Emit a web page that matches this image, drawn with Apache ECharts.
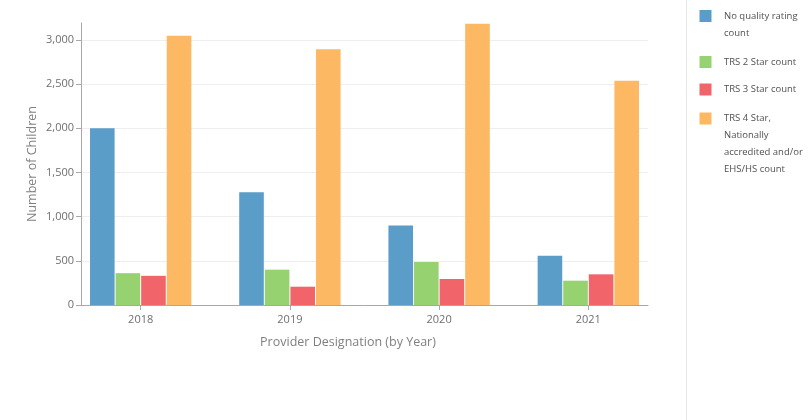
<!DOCTYPE html>
<html><head><meta charset="utf-8">
<script src="https://cdn.jsdelivr.net/npm/echarts@6/dist/echarts.min.js"></script>
<style>html,body{margin:0;padding:0;background:#fff}#c{width:812px;height:420px}</style>
</head><body><div id="c"></div>
<script>
const years = ['2018', '2019', '2020', '2021'];
const seriesNames = ['No quality rating count', 'TRS 2 Star count', 'TRS 3 Star count', 'TRS 4 Star, Nationally accredited and/or EHS/HS count'];
const legendLines = [['No quality rating', 'count'], ['TRS 2 Star count'], ['TRS 3 Star count'], ['TRS 4 Star,', 'Nationally', 'accredited and/or', 'EHS/HS count']];
const noRating = [2000, 1276, 898, 558];
const trs2 = [360, 400, 487, 275];
const trs3 = [330, 207, 294, 347];
const trs4 = [3045, 2894, 3181, 2536];
const colors = ['#5b9dc9', '#97d271', '#f0646a', '#fdb863'];
const values = [noRating, trs2, trs3, trs4];

const FONT = 'Open Sans';
const LINE_H = 17;
const iconCenters = [16, 62, 89.5, 118.5];

function legendText(i) {
  const lines = legendLines[i];
  const pad = [];
  for (let k = 1; k < lines.length; k++) pad.push('');
  return pad.concat(lines).join('\n');
}

const chart = echarts.init(document.getElementById('c'), null, {renderer: 'canvas'});
const option = {
  animation: false,
  color: colors,
  textStyle: {fontFamily: FONT},
  grid: {left: 81, right: 164, top: 23, bottom: 115, containLabel: false},
  xAxis: {
    type: 'value', min: -0.4, max: 3.4,
    name: 'Provider Designation (by Year)',
    nameLocation: 'middle', nameGap: 31, nameMoveOverlap: false,
    nameTextStyle: {fontFamily: FONT, fontSize: 12.5, color: '#808080', padding: [0, 33, 0, 0]},
    axisLine: {show: true, onZero: false, lineStyle: {color: '#a8a8a8', width: 1}},
    axisTick: {show: true, length: 5, lineStyle: {color: '#a8a8a8'}, customValues: [0, 1, 2, 3]},
    axisLabel: {customValues: [0, 1, 2, 3], formatter: v => years[Math.round(v)], margin: 9,
      fontFamily: FONT, fontSize: 11, color: '#6f6f6f'},
    splitLine: {show: false}
  },
  yAxis: {
    type: 'value', min: 0, max: 3190, interval: 500,
    name: 'Number of Children',
    nameLocation: 'middle', nameGap: 42, nameRotate: 90, nameMoveOverlap: false,
    nameTextStyle: {fontFamily: FONT, fontSize: 12.5, color: '#808080'},
    axisLine: {show: true, onZero: false, lineStyle: {color: '#a8a8a8', width: 1}},
    axisTick: {show: true, length: 5, lineStyle: {color: '#a8a8a8'}},
    axisLabel: {margin: 7, fontFamily: FONT, fontSize: 11, color: '#6f6f6f', showMaxLabel: false,
      formatter: v => v.toLocaleString('en-US')},
    splitLine: {show: true, showMaxLine: false, lineStyle: {color: '#eeeeee', width: 1}}
  },
  legend: seriesNames.map((n, i) => ({
    orient: 'vertical', left: 699.5,
    top: iconCenters[i] - (2 * legendLines[i].length - 1) * LINE_H / 2,
    padding: 0,
    itemWidth: 12, itemHeight: 12, icon: 'rect',
    data: [n],
    formatter: () => legendText(i),
    textStyle: {fontFamily: FONT, fontSize: 9.5, color: '#505050', lineHeight: LINE_H, padding: [0, 0, 0, 7.5]}
  })),
  graphic: [{type: 'line', shape: {x1: 686.5, y1: 0, x2: 686.5, y2: 420}, style: {stroke: '#e6e6e6', lineWidth: 1}, silent: true}],
  series: seriesNames.map((n, i) => ({
    name: n, type: 'bar',
    data: values[i].map((v, k) => [k, v]),
    barWidth: 24.6, barGap: '4%',
    itemStyle: {color: colors[i]}
  }))
};
chart.setOption(option);
</script></body></html>
